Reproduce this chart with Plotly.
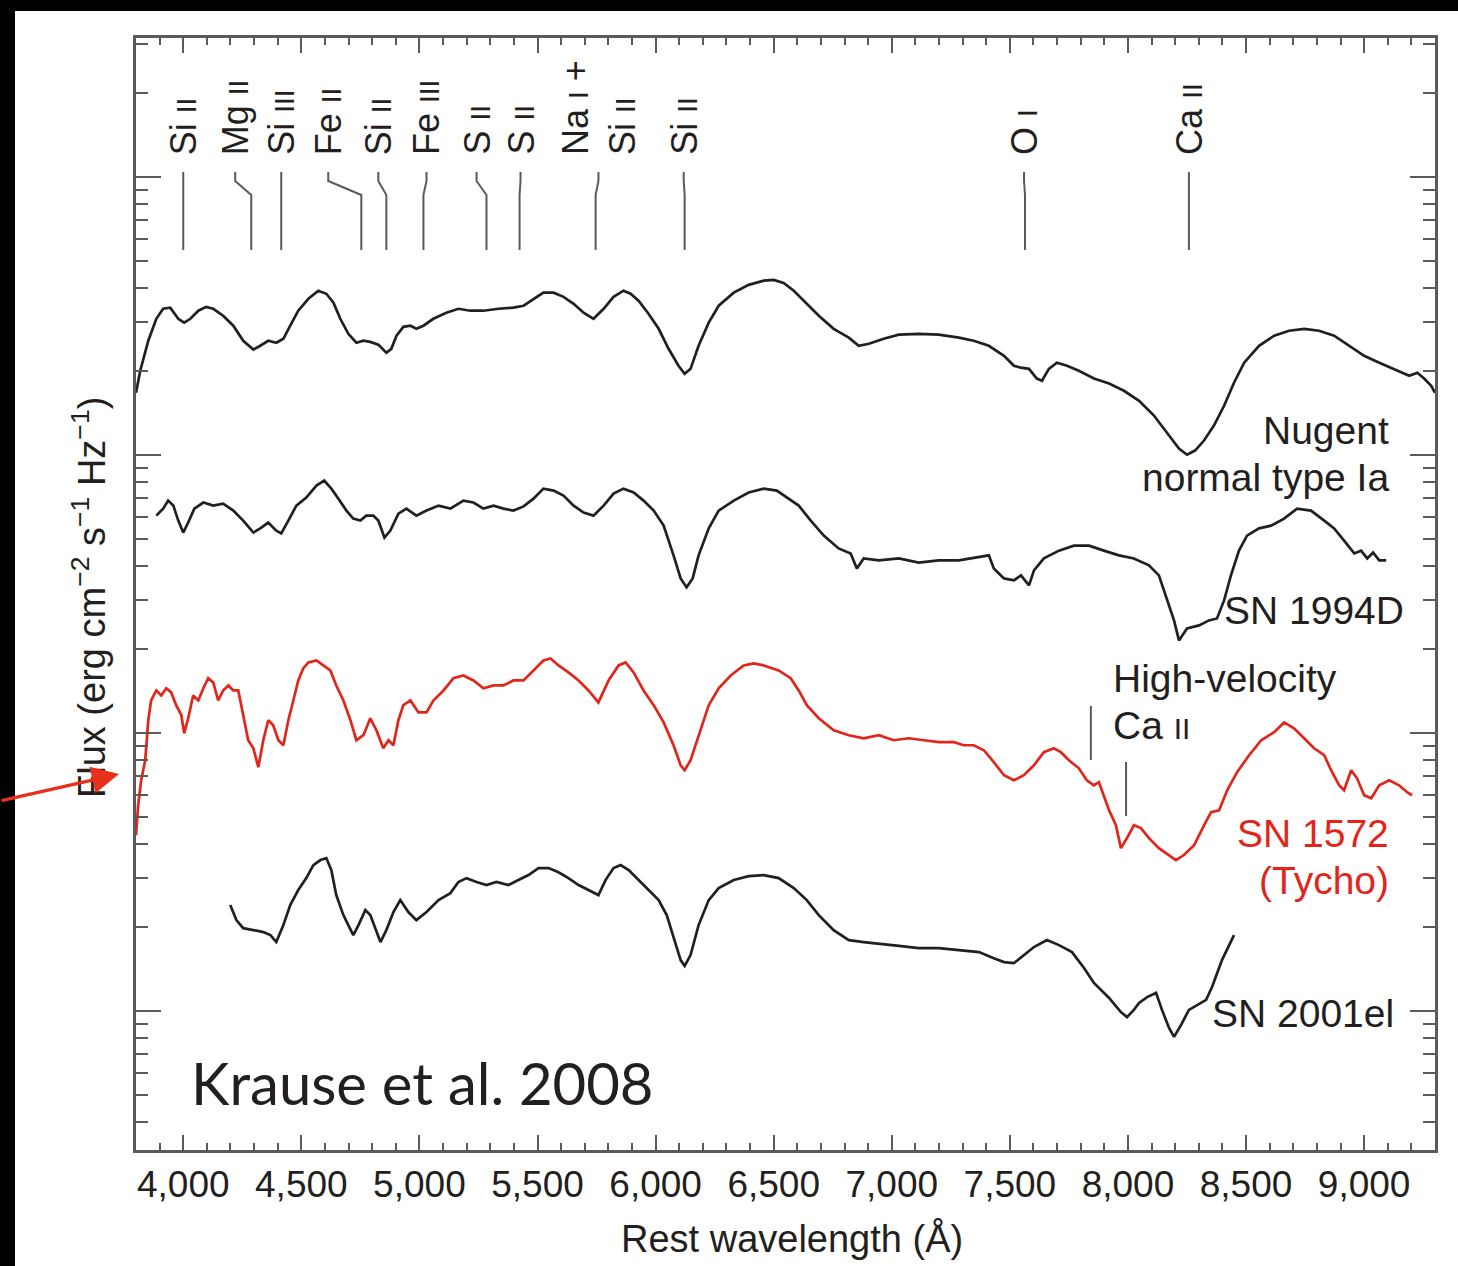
import numpy as np
import plotly.graph_objects as go

# ---------------------------------------------------------------------------
# Spectra: rest wavelength (Å) and log10 flux (each spectrum offset vertically)
# ---------------------------------------------------------------------------
nugent_wave = [
    3800, 3818, 3852, 3886, 3915, 3945, 3979, 4004, 4030, 4064,
    4097, 4127, 4169, 4212, 4254, 4297, 4326, 4360, 4394, 4424,
    4453, 4487, 4530, 4572, 4606, 4636, 4665, 4699, 4733, 4763,
    4792, 4826, 4860, 4881, 4903, 4932, 4962, 4987, 5017, 5059,
    5114, 5165, 5216, 5271, 5335, 5398, 5441, 5483, 5525, 5568,
    5610, 5653, 5695, 5737, 5780, 5822, 5864, 5894, 5928, 5970,
    6013, 6055, 6097, 6123, 6148, 6182, 6225, 6267, 6331, 6394,
    6458, 6500, 6542, 6585, 6640, 6691, 6754, 6818, 6860, 6903,
    6966, 7030, 7114, 7199, 7284, 7347, 7411, 7475, 7517, 7547,
    7581, 7614, 7636, 7665, 7699, 7742, 7792, 7856, 7920, 7983,
    8047, 8110, 8174, 8216, 8250, 8284, 8322, 8364, 8407, 8449,
    8492, 8555, 8619, 8682, 8746, 8809, 8873, 8936, 9000, 9064,
    9127, 9191, 9225, 9254, 9284, 9300,
]
nugent_logflux = [
    2.224, 2.303, 2.411, 2.490, 2.526, 2.530, 2.490, 2.476, 2.490, 2.519,
    2.533, 2.526, 2.501, 2.465, 2.411, 2.379, 2.393, 2.411, 2.404, 2.418,
    2.465, 2.519, 2.562, 2.591, 2.580, 2.548, 2.490, 2.436, 2.404, 2.411,
    2.407, 2.397, 2.368, 2.382, 2.429, 2.461, 2.465, 2.454, 2.465, 2.490,
    2.512, 2.526, 2.519, 2.519, 2.526, 2.530, 2.537, 2.562, 2.584, 2.584,
    2.569, 2.544, 2.512, 2.490, 2.526, 2.569, 2.591, 2.580, 2.555, 2.508,
    2.454, 2.382, 2.321, 2.292, 2.310, 2.393, 2.476, 2.537, 2.584, 2.612,
    2.627, 2.630, 2.619, 2.591, 2.544, 2.501, 2.454, 2.422, 2.393, 2.400,
    2.418, 2.433, 2.436, 2.433, 2.422, 2.411, 2.393, 2.357, 2.321, 2.314,
    2.310, 2.275, 2.267, 2.310, 2.332, 2.321, 2.303, 2.275, 2.257, 2.231,
    2.195, 2.142, 2.070, 2.023, 2.001, 2.016, 2.052, 2.106, 2.177, 2.260,
    2.332, 2.393, 2.429, 2.447, 2.454, 2.447, 2.429, 2.393, 2.357, 2.332,
    2.310, 2.285, 2.296, 2.275, 2.249, 2.224,
]

sn1994d_wave = [
    3886, 3915, 3936, 3958, 3979, 4000, 4021, 4047, 4085, 4127,
    4169, 4212, 4254, 4297, 4326, 4360, 4394, 4415, 4445, 4479,
    4521, 4564, 4597, 4627, 4657, 4691, 4720, 4750, 4775, 4805,
    4826, 4852, 4877, 4911, 4945, 4987, 5030, 5081, 5131, 5186,
    5229, 5271, 5314, 5356, 5398, 5441, 5483, 5525, 5568, 5610,
    5653, 5695, 5737, 5780, 5822, 5864, 5907, 5949, 5992, 6034,
    6076, 6106, 6131, 6157, 6182, 6225, 6267, 6331, 6394, 6458,
    6513, 6564, 6606, 6657, 6712, 6775, 6826, 6852, 6881, 6945,
    7030, 7114, 7199, 7284, 7347, 7411, 7432, 7475, 7517, 7547,
    7581, 7602, 7644, 7708, 7771, 7835, 7898, 7962, 8025, 8089,
    8131, 8165, 8195, 8216, 8250, 8301, 8343, 8377, 8407, 8436,
    8470, 8504, 8555, 8606, 8661, 8716, 8775, 8831, 8873, 8915,
    8958, 8987, 9013, 9038, 9064, 9093,
]
sn1994d_logflux = [
    1.782, 1.807, 1.836, 1.818, 1.764, 1.721, 1.757, 1.807, 1.829, 1.818,
    1.825, 1.800, 1.764, 1.721, 1.736, 1.757, 1.728, 1.718, 1.764, 1.818,
    1.847, 1.890, 1.908, 1.879, 1.843, 1.800, 1.771, 1.764, 1.782, 1.782,
    1.764, 1.703, 1.728, 1.789, 1.807, 1.782, 1.800, 1.818, 1.807, 1.836,
    1.829, 1.807, 1.818, 1.807, 1.800, 1.815, 1.843, 1.879, 1.872, 1.854,
    1.818, 1.793, 1.782, 1.818, 1.861, 1.879, 1.865, 1.836, 1.800, 1.746,
    1.639, 1.556, 1.524, 1.556, 1.639, 1.736, 1.800, 1.836, 1.865, 1.879,
    1.872, 1.843, 1.818, 1.764, 1.710, 1.664, 1.646, 1.592, 1.628, 1.621,
    1.628, 1.613, 1.621, 1.621, 1.631, 1.639, 1.592, 1.556, 1.549, 1.567,
    1.531, 1.585, 1.628, 1.656, 1.674, 1.674, 1.656, 1.639, 1.628, 1.603,
    1.567, 1.484, 1.405, 1.333, 1.376, 1.387, 1.405, 1.412, 1.477, 1.567,
    1.656, 1.710, 1.736, 1.746, 1.771, 1.807, 1.800, 1.764, 1.736, 1.692,
    1.646, 1.656, 1.628, 1.649, 1.621, 1.621,
]

sn1572_wave = [
    3800, 3809, 3822, 3839, 3852, 3864, 3886, 3907, 3928, 3949,
    3970, 3992, 4004, 4021, 4042, 4064, 4085, 4106, 4127, 4148,
    4169, 4191, 4212, 4233, 4254, 4275, 4297, 4318, 4339, 4360,
    4381, 4403, 4424, 4445, 4466, 4487, 4508, 4530, 4564, 4593,
    4623, 4648, 4678, 4708, 4733, 4763, 4792, 4818, 4847, 4869,
    4890, 4911, 4932, 4962, 4996, 5030, 5059, 5102, 5144, 5186,
    5229, 5271, 5314, 5356, 5398, 5441, 5483, 5525, 5555, 5589,
    5631, 5674, 5716, 5758, 5801, 5843, 5873, 5907, 5949, 5992,
    6034, 6076, 6106, 6123, 6148, 6182, 6225, 6267, 6318, 6373,
    6415, 6458, 6521, 6572, 6606, 6640, 6691, 6754, 6818, 6881,
    6945, 7008, 7072, 7136, 7199, 7263, 7305, 7347, 7390, 7432,
    7475, 7517, 7559, 7602, 7644, 7686, 7716, 7750, 7792, 7826,
    7856, 7877, 7898, 7920, 7949, 7970, 7996, 8025, 8055, 8089,
    8131, 8174, 8203, 8237, 8280, 8322, 8352, 8386, 8420, 8462,
    8513, 8564, 8619, 8661, 8703, 8746, 8788, 8831, 8860, 8894,
    8915, 8945, 8970, 9000, 9030, 9064, 9106, 9148, 9182, 9203,
]
sn1572_logflux = [
    0.632, 0.740, 0.830, 0.902, 1.046, 1.117, 1.153, 1.135, 1.161, 1.146,
    1.100, 1.064, 0.999, 1.053, 1.135, 1.117, 1.161, 1.197, 1.182, 1.117,
    1.153, 1.171, 1.153, 1.153, 1.064, 0.974, 0.945, 0.877, 0.974, 1.046,
    1.028, 0.974, 0.956, 1.046, 1.117, 1.189, 1.232, 1.254, 1.261, 1.243,
    1.225, 1.171, 1.117, 1.046, 0.974, 0.992, 1.053, 1.010, 0.945, 0.974,
    0.956, 1.046, 1.100, 1.117, 1.074, 1.074, 1.117, 1.153, 1.197, 1.207,
    1.189, 1.161, 1.171, 1.171, 1.189, 1.189, 1.225, 1.261, 1.268, 1.243,
    1.218, 1.189, 1.153, 1.110, 1.189, 1.243, 1.254, 1.218, 1.153, 1.100,
    1.038, 0.956, 0.884, 0.866, 0.902, 0.992, 1.100, 1.161, 1.207, 1.243,
    1.250, 1.243, 1.225, 1.197, 1.153, 1.100, 1.053, 1.010, 0.992, 0.981,
    0.992, 0.974, 0.981, 0.974, 0.967, 0.967, 0.956, 0.956, 0.938, 0.895,
    0.848, 0.830, 0.848, 0.884, 0.931, 0.945, 0.931, 0.902, 0.873, 0.830,
    0.812, 0.823, 0.776, 0.722, 0.668, 0.586, 0.622, 0.668, 0.658, 0.622,
    0.586, 0.561, 0.543, 0.561, 0.596, 0.668, 0.715, 0.722, 0.794, 0.859,
    0.920, 0.974, 1.003, 1.038, 1.017, 0.981, 0.945, 0.920, 0.866, 0.812,
    0.794, 0.866, 0.837, 0.776, 0.765, 0.812, 0.830, 0.812, 0.787, 0.776,
]

sn2001el_wave = [
    4199, 4225, 4254, 4297, 4339, 4369, 4394, 4424, 4453, 4487,
    4521, 4551, 4581, 4606, 4627, 4648, 4678, 4699, 4720, 4742,
    4771, 4792, 4818, 4835, 4860, 4890, 4919, 4953, 4987, 5030,
    5081, 5131, 5165, 5199, 5242, 5284, 5326, 5377, 5419, 5462,
    5504, 5547, 5589, 5631, 5674, 5716, 5758, 5788, 5822, 5852,
    5886, 5928, 5970, 6013, 6047, 6081, 6106, 6123, 6148, 6182,
    6225, 6267, 6331, 6394, 6458, 6521, 6585, 6640, 6691, 6754,
    6818, 6881, 6945, 7030, 7114, 7199, 7284, 7369, 7432, 7475,
    7517, 7559, 7602, 7657, 7708, 7763, 7814, 7856, 7920, 7970,
    7996, 8025, 8047, 8081, 8119, 8144, 8174, 8195, 8225, 8258,
    8301, 8331, 8356, 8398, 8449,
]
sn2001el_logflux = [
    0.381, 0.327, 0.298, 0.291, 0.284, 0.273, 0.248, 0.309, 0.381, 0.435,
    0.478, 0.525, 0.543, 0.550, 0.507, 0.417, 0.345, 0.309, 0.273, 0.309,
    0.363, 0.345, 0.284, 0.248, 0.291, 0.356, 0.399, 0.356, 0.327, 0.356,
    0.399, 0.424, 0.464, 0.478, 0.464, 0.453, 0.464, 0.453, 0.471, 0.489,
    0.514, 0.514, 0.499, 0.478, 0.453, 0.435, 0.417, 0.471, 0.514, 0.525,
    0.507, 0.471, 0.435, 0.399, 0.345, 0.255, 0.183, 0.162, 0.201, 0.309,
    0.399, 0.442, 0.471, 0.485, 0.489, 0.478, 0.442, 0.399, 0.345, 0.291,
    0.255, 0.248, 0.241, 0.234, 0.226, 0.226, 0.219, 0.212, 0.190, 0.176,
    0.172, 0.201, 0.230, 0.255, 0.237, 0.212, 0.155, 0.101, 0.047, -0.004,
    -0.022, 0.004, 0.029, 0.050, 0.065, 0.004, -0.061, -0.093, -0.050, 0.004,
    0.025, 0.040, 0.086, 0.183, 0.273,
]

# Line identifications: ion, wavelength of the feature, wavelength of the label
line_ions = ["Si II", "Mg II", "Si III", "Fe II", "Si II", "Fe III",
             "S II", "S II", "Na I +\nSi II", "Si II", "O I", "Ca II"]
line_wave = [4000, 4288, 4415, 4754, 4860, 5017, 5284, 5424, 5746, 6123, 7564, 8258]
label_wave = [4000, 4220, 4415, 4614, 4826, 5030, 5242, 5428, 5758, 6119, 7560, 8258]

# High-velocity Ca II features marked on SN 1572
hv_ca_wave = [7843, 7992]

# Axis ticks
x_major = list(range(4000, 9001, 500))

# ---------------------------------------------------------------------------
FONT = "Liberation Sans, Arial, Helvetica, sans-serif"
INK = "#231f20"
RED = "#e1251b"
GREY = "#5a5a5a"

W, H = 1458, 1266
L, R, T, B = 136, 1435, 38, 1150          # plot-area edges (px)
Y0, Y1 = -0.5, 3.5                        # log10 flux range
X0, X1 = 3800, 9300


def xp(p):   # pixel column -> paper x
    return (p - L) / (R - L)


def yp(p):   # pixel row -> paper y
    return (B - p) / (B - T)


def yd(p):   # pixel row -> data y
    return Y1 - (p - T) * (Y1 - Y0) / (B - T)


def ion(s, small=28):
    """Write the ionisation stage (roman numeral) in small capitals."""
    lines = []
    for part in s.split("\n"):
        toks = []
        for tok in part.split(" "):
            if tok and set(tok) <= {"I"}:
                toks.append(f"<span style='font-size:{small}px'>{tok}</span>")
            else:
                toks.append(tok)
        lines.append(" ".join(toks))
    return "<br>".join(lines)


fig = go.Figure()

for wave, flux, color in [
    (nugent_wave, nugent_logflux, INK),
    (sn1994d_wave, sn1994d_logflux, INK),
    (sn1572_wave, sn1572_logflux, RED),
    (sn2001el_wave, sn2001el_logflux, INK),
]:
    fig.add_trace(go.Scatter(x=wave, y=flux, mode="lines",
                             line=dict(color=color, width=2.7),
                             showlegend=False, hoverinfo="skip"))

# line-identification ticks (with a dog-leg where label and feature differ)
cx, cy = [], []
for lw, tw in zip(line_wave, label_wave):
    cx += [tw, tw, lw, lw, None]
    cy += [yd(172), yd(181), yd(195), yd(250), None]
fig.add_trace(go.Scatter(x=cx, y=cy, mode="lines",
                         line=dict(color=GREY, width=2),
                         showlegend=False, hoverinfo="skip"))

# high-velocity Ca II markers
hx, hy = [], []
for w, (top, bot) in zip(hv_ca_wave, [(706, 760), (762, 816)]):
    hx += [w, w, None]
    hy += [yd(top), yd(bot), None]
fig.add_trace(go.Scatter(x=hx, y=hy, mode="lines",
                         line=dict(color=GREY, width=2),
                         showlegend=False, hoverinfo="skip"))

annotations = []
for name, tw in zip(line_ions, label_wave):
    annotations.append(dict(
        x=tw, xref="x", y=yp(157), yref="paper", text=ion(name),
        textangle=-90, xanchor="center", yanchor="bottom", align="left",
        showarrow=False, font=dict(family=FONT, size=36, color=INK)))


def label(text, x, y, xanchor, color=INK, size=39, family=FONT):
    annotations.append(dict(
        x=xp(x), y=yp(y), xref="paper", yref="paper", text=text,
        xanchor=xanchor, yanchor="middle", align=xanchor,
        showarrow=False, font=dict(family=family, size=size, color=color)))


label("Nugent", 1391, 430, "right")
label("normal type Ia", 1391, 477, "right")
label("SN 1994D", 1406, 610, "right")
label("High-velocity", 1111, 678, "left")
label(ion("Ca II", small=30), 1111, 725, "left")
label("SN 1572", 1391, 833, "right", color=RED)
label("(Tycho)", 1391, 880, "right", color=RED)
label("SN 2001el", 1396, 1013, "right")
label("Krause et al. 2008", 189, 1082, "left", size=58,
      family="Lato, 'Gill Sans', sans-serif")

# axis titles
annotations.append(dict(
    x=xp(89), y=yp(598), xref="paper", yref="paper", textangle=-90,
    text="Flux (erg cm<sup>−2</sup> s<sup>−1</sup> Hz<sup>−1</sup>)",
    xanchor="center", yanchor="middle", showarrow=False,
    font=dict(family=FONT, size=38, color=INK)))
label("Rest wavelength (Å)", 792, 1238, "center", size=38)

# red pointer towards the flux axis
annotations.append(dict(
    x=xp(119), y=yp(774), xref="paper", yref="paper", text="",
    showarrow=True, ax=-119, ay=27, arrowhead=2, arrowsize=1.7,
    arrowwidth=3.2, arrowcolor="#e8301c"))

# log-spaced y ticks
y_major = [n for n in range(0, 4)]
y_minor = [n + np.log10(k) for n in range(-1, 4) for k in range(2, 10)
           if Y0 <= n + np.log10(k) <= Y1]

fig.update_layout(
    width=W, height=H, autosize=False,
    margin=dict(l=L, r=W - R, t=T, b=H - B, pad=0),
    paper_bgcolor="white", plot_bgcolor="white",
    separators=".,",
    annotations=annotations,
    shapes=[
        dict(type="rect", xref="paper", yref="paper",
             x0=xp(-30), x1=xp(W + 30), y0=yp(11), y1=yp(-30),
             fillcolor="black", line_width=0, layer="above"),
        dict(type="rect", xref="paper", yref="paper",
             x0=xp(-30), x1=xp(15), y0=yp(H + 30), y1=yp(-30),
             fillcolor="black", line_width=0, layer="above"),
    ],
    xaxis=dict(
        range=[X0, X1], showgrid=False, zeroline=False,
        showline=True, linecolor=GREY, linewidth=2.5, mirror="ticks",
        ticks="inside", ticklen=15, tickwidth=2, tickcolor=GREY,
        tickmode="array", tickvals=x_major, tickformat=",d",
        tickfont=dict(family=FONT, size=37, color=INK),
        minor=dict(ticks="inside", ticklen=7, tickwidth=2, tickcolor=GREY,
                   dtick=100, tick0=0, showgrid=False),
    ),
    yaxis=dict(
        range=[Y0, Y1], showgrid=False, zeroline=False,
        showline=True, linecolor=GREY, linewidth=2.5, mirror="ticks",
        ticks="inside", ticklen=25, tickwidth=2, tickcolor=GREY,
        tickmode="array", tickvals=y_major, showticklabels=False,
        minor=dict(ticks="inside", ticklen=12, tickwidth=2, tickcolor=GREY,
                   tickmode="array", tickvals=y_minor, showgrid=False),
    ),
)

fig.write_html("out.html")
